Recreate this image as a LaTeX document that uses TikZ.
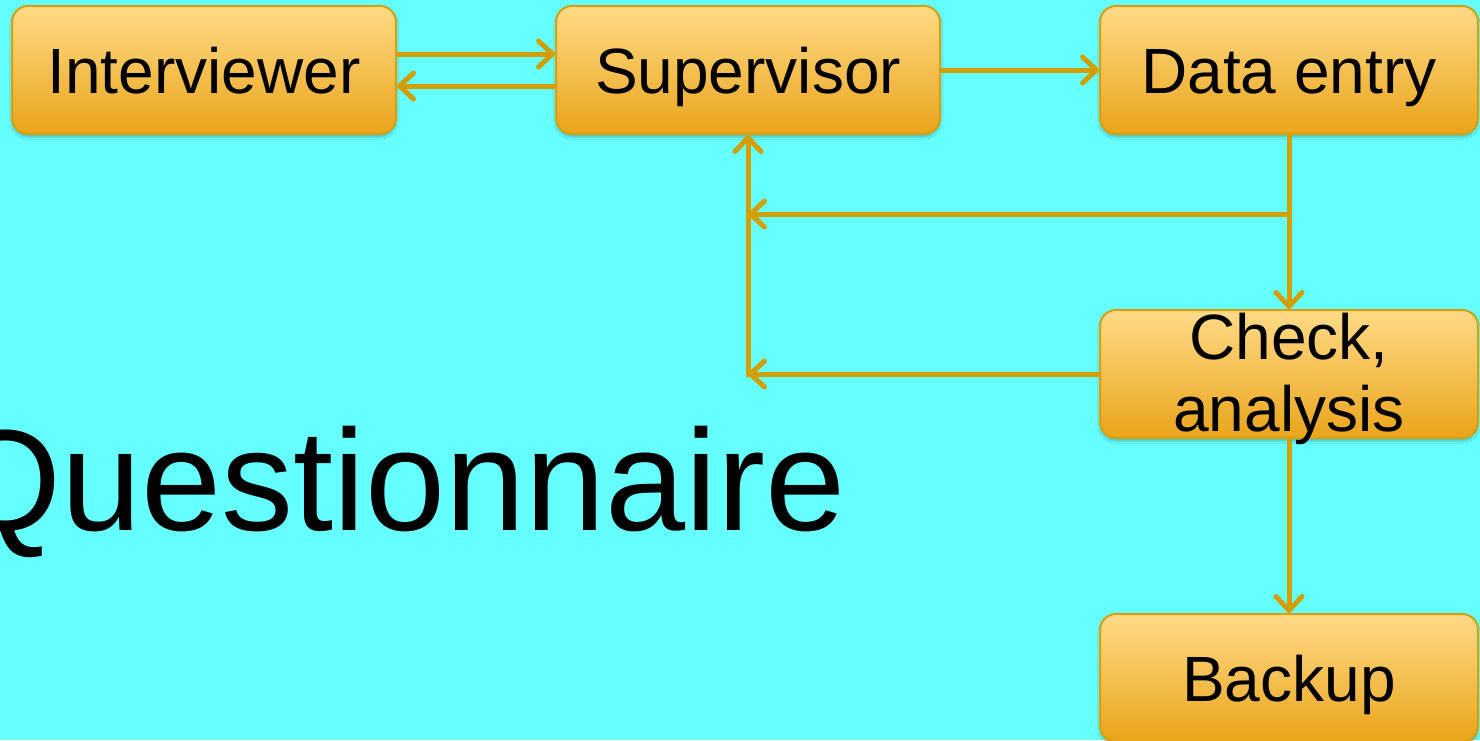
\documentclass[tikz,border=0pt]{standalone}
\usepackage{fontspec}
\setmainfont{Liberation Sans}
\usetikzlibrary{arrows.meta,calc,shadows.blur}
\definecolor{bgc}{RGB}{102,255,255}
\definecolor{boxtop}{RGB}{255,219,136}
\definecolor{boxbot}{RGB}{234,164,26}
\definecolor{boxline}{RGB}{214,160,10}
\definecolor{arrc}{RGB}{210,158,0}
\tikzset{
  stagebox/.style={rectangle, rounded corners=16pt, draw=boxline, line width=2pt,
    top color=boxtop, bottom color=boxbot, minimum width=384pt, minimum height=128pt,
    inner sep=0pt, font=\fontsize{64}{72}\selectfont, text height=46pt, text depth=0pt,
    blur shadow={shadow blur steps=6, shadow xshift=0pt, shadow yshift=-3pt, shadow opacity=25}},
  narrowbox/.style={stagebox, minimum width=378pt},
  flow/.style={draw=arrc, line width=5pt,
    -{Straight Barb[length=14pt,width=26pt,round]}},
  plainflow/.style={draw=arrc, line width=5pt}
}
\begin{document}
\begin{tikzpicture}[x=1pt,y=-1pt]
\useasboundingbox (0,0) rectangle (1480,740);
\fill[bgc] (0,0) rectangle (1480,740);

\node[anchor=base west, inner sep=0pt, font=\fontsize{144}{160}\selectfont] (title) at (-51,530) {Questionnaire};

\node[stagebox] (int) at (204,70) {Interviewer};
\node[stagebox] (sup) at (748,70) {Supervisor};
\node[narrowbox] (dat) at (1289,70) {Data entry};
\node[narrowbox, text height=, text depth=] (chk) at (1289,374) {};
\node[narrowbox] (bak) at (1289,678) {Backup};

\coordinate (j1) at ($(dat.south)!0.4545!(chk.north)$);
\coordinate (j2) at (sup.south |- j1);
\coordinate (j3) at (sup.south |- chk.west);

\draw[flow] ($(int.east)+(0,-16)$) -- ($(sup.west)+(0,-16)$);
\draw[flow] ($(sup.west)+(0,16)$) -- ($(int.east)+(0,16)$);
\draw[flow] (sup.east) -- (dat.west);
\draw[flow] (dat.south) -- (chk.north);
\draw[flow] (j1) -- (j2);
\draw[flow] (chk.west) -- (j3);
\draw[flow] ($(j3)+(0,2.5)$) -- (sup.south);
\draw[flow] (chk.south) -- (bak.north);

\node[align=center, inner sep=0pt, font=\fontsize{64}{72}\selectfont] (chktxt) at (1289,379) {Check,\\analysis};
\end{tikzpicture}
\end{document}
